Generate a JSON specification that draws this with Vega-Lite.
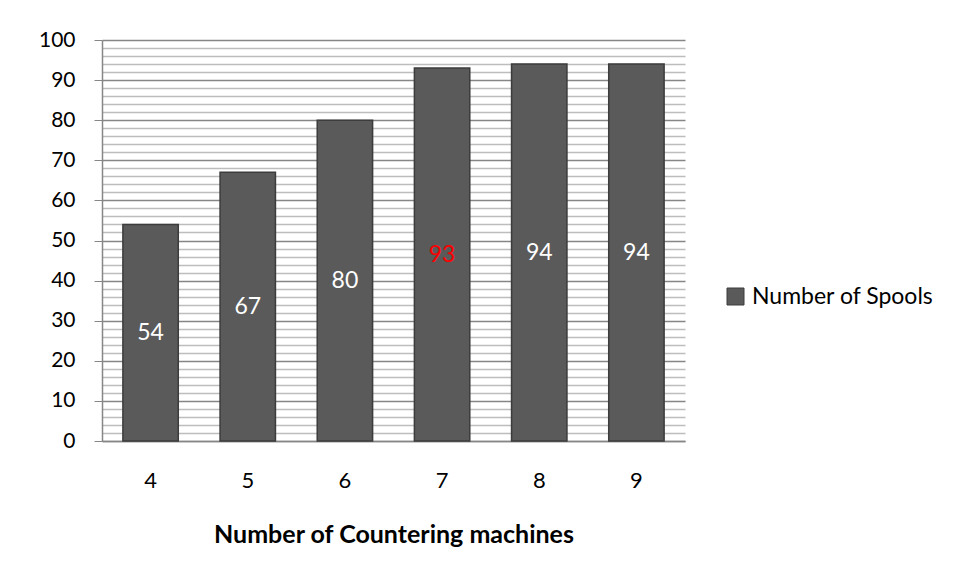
{
  "$schema": "https://vega.github.io/schema/vega-lite/v6.json",
  "width": 583,
  "height": 401,
  "autosize": {"type": "none"},
  "padding": {"left": 102, "top": 40, "right": 269, "bottom": 138},
  "background": "white",
  "config": {"font": "Lato", "view": {"stroke": null}},
  "data": {
    "values": [
      {"machines": 4, "spools": 54},
      {"machines": 5, "spools": 67},
      {"machines": 6, "spools": 80},
      {"machines": 7, "spools": 93},
      {"machines": 8, "spools": 94},
      {"machines": 9, "spools": 94}
    ]
  },
  "encoding": {
    "x": {
      "field": "machines",
      "type": "ordinal",
      "scale": {"paddingInner": 0.43, "paddingOuter": 0.215},
      "title": "Number of Countering machines",
      "axis": {
        "labelAngle": 0,
        "labelFontSize": 22,
        "labelColor": "#000000",
        "labelPadding": 29,
        "ticks": false,
        "domainColor": "#868686",
        "domainWidth": 1.5,
        "titleFontSize": 25,
        "titleFontWeight": "bold",
        "titleColor": "#000000",
        "titlePadding": 31
      }
    }
  },
  "layer": [
    {
      "mark": {"type": "bar", "stroke": "#3c3c3c", "strokeWidth": 1.5},
      "encoding": {
        "y": {
          "field": "spools",
          "type": "quantitative",
          "scale": {"domain": [0, 100], "nice": false},
          "title": null,
          "axis": {
            "values": [0,2,4,6,8,10,12,14,16,18,20,22,24,26,28,30,32,34,36,38,40,42,44,46,48,50,52,54,56,58,60,62,64,66,68,70,72,74,76,78,80,82,84,86,88,90,92,94,96,98,100],
            "labelExpr": "datum.value % 10 === 0 ? datum.label : ''",
            "labelOverlap": false,
            "labelFontSize": 21,
            "labelColor": "#000000",
            "labelPadding": 19,
            "tickSize": 8,
            "tickColor": "#868686",
            "tickOpacity": {"condition": {"test": "datum.value % 10 === 0", "value": 1}, "value": 0},
            "domainColor": "#868686",
            "domainWidth": 1.5,
            "grid": true,
            "gridColor": {"condition": {"test": "datum.value % 10 === 0", "value": "#868686"}, "value": "#bdbdbd"},
            "gridWidth": 1.5
          }
        },
        "color": {
          "datum": "Number of Spools",
          "type": "nominal",
          "scale": {"range": ["#5a5a5a"]},
          "legend": {
            "title": null,
            "orient": "none",
            "legendX": 622,
            "legendY": 245,
            "symbolType": "square",
            "symbolSize": 289,
            "symbolStrokeColor": "#3c3c3c",
            "symbolStrokeWidth": 1,
            "labelFontSize": 23,
            "labelLimit": 0,
            "labelColor": "#000000",
            "labelOffset": 5
          }
        }
      }
    },
    {
      "transform": [{"calculate": "datum.spools / 2", "as": "mid"}],
      "mark": {"type": "text", "fontSize": 23, "baseline": "middle", "align": "center"},
      "encoding": {
        "y": {
          "field": "mid",
          "type": "quantitative",
          "title": null,
          "axis": {
            "values": [0,2,4,6,8,10,12,14,16,18,20,22,24,26,28,30,32,34,36,38,40,42,44,46,48,50,52,54,56,58,60,62,64,66,68,70,72,74,76,78,80,82,84,86,88,90,92,94,96,98,100],
            "labelExpr": "datum.value % 10 === 0 ? datum.label : ''",
            "labelOverlap": false,
            "labelFontSize": 21,
            "labelColor": "#000000",
            "labelPadding": 19,
            "tickSize": 8,
            "tickColor": "#868686",
            "tickOpacity": {"condition": {"test": "datum.value % 10 === 0", "value": 1}, "value": 0},
            "domainColor": "#868686",
            "domainWidth": 1.5,
            "grid": true,
            "gridColor": {"condition": {"test": "datum.value % 10 === 0", "value": "#868686"}, "value": "#bdbdbd"},
            "gridWidth": 1.5
          }
        },
        "text": {"field": "spools", "type": "quantitative"},
        "color": {"condition": {"test": "datum.machines === 7", "value": "#ff0000"}, "value": "#ffffff"}
      }
    }
  ]
}
